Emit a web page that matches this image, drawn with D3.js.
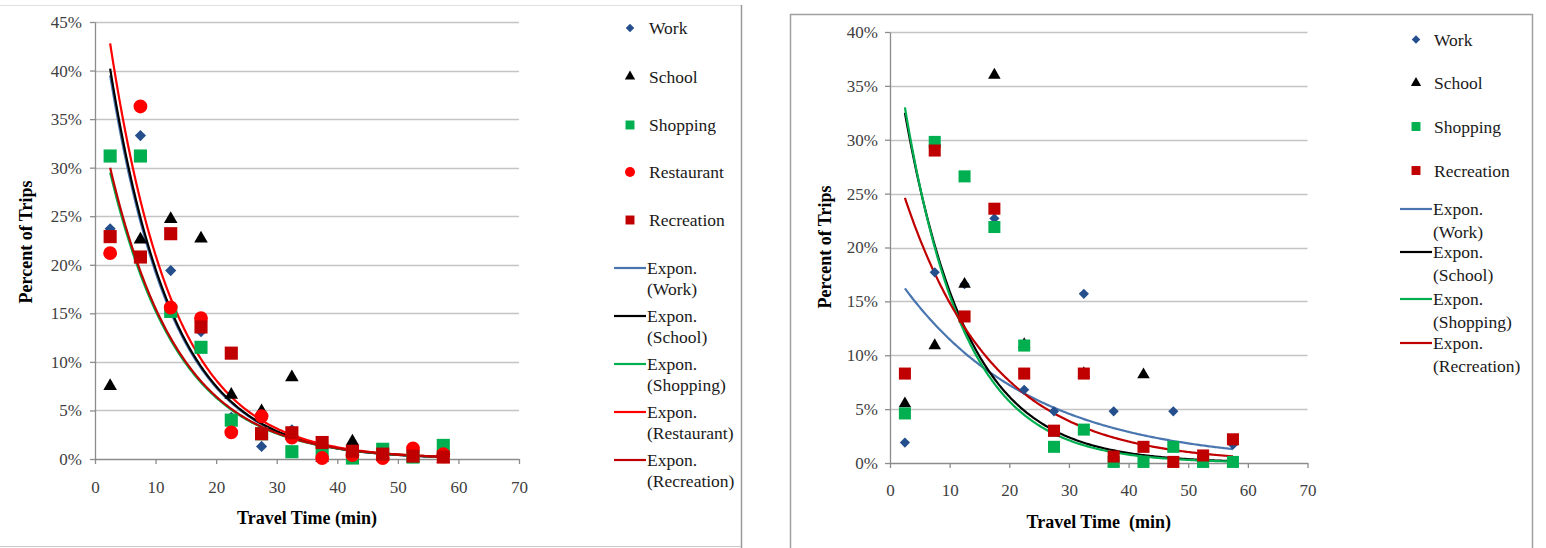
<!DOCTYPE html>
<html>
<head>
<meta charset="utf-8">
<script src="https://cdn.jsdelivr.net/npm/d3@7/dist/d3.min.js"></script>
<style>
  html, body { margin: 0; padding: 0; background: #ffffff; }
  svg { display: block; }
</style>
</head>
<body>
<svg id="chart" width="1546" height="548"></svg>
<script>
// ---------- DATA ----------
const travelTime = [2.5, 7.5, 12.5, 17.5, 22.5, 27.5, 32.5, 37.5, 42.5, 47.5, 52.5, 57.5];
const xTicks = [0, 10, 20, 30, 40, 50, 60, 70];
const yTicksLeft = [0, 0.05, 0.10, 0.15, 0.20, 0.25, 0.30, 0.35, 0.40, 0.45];
const yTicksRight = [0, 0.05, 0.10, 0.15, 0.20, 0.25, 0.30, 0.35, 0.40];

// left chart (percent of trips, %)
const leftWork       = [23.7, 33.3, 19.4, 13.1, 4.3, 1.3, 3.0, 0.6, 0.4, 0.2, 0.1, 0.1];
const leftSchool     = [7.5, 22.6, 24.7, 22.7, 6.6, 4.9, 8.4, 0.1, 1.8, 0.2, 0.1, 0.0];
const leftShopping   = [31.2, 31.2, 15.2, 11.5, 4.0, 2.6, 0.75, 0.8, 0.1, 1.0, 0.2, 1.4];
const leftRestaurant = [21.2, 36.3, 15.6, 14.5, 2.75, 4.4, 2.2, 0.1, 0.4, 0.1, 1.1, 0.5];
const leftRecreation = [22.9, 20.8, 23.2, 13.6, 10.9, 2.6, 2.7, 1.7, 0.8, 0.5, 0.3, 0.2];
// exponential trend lines: value at x=2.5 (%) and decay rate per minute
const leftTrendNames = ["Work", "School", "Shopping", "Restaurant", "Recreation"];
const leftTrendStart = [39.5, 40.2, 29.5, 42.8, 30.0];
const leftTrendRate  = [0.096, 0.096, 0.088, 0.095, 0.088];

// right chart
const rightWork       = [1.9, 17.7, 16.6, 22.7, 6.8, 4.8, 15.7, 4.8, 1.5, 4.8, 0.1, 1.7];
const rightSchool     = [5.5, 10.9, 16.6, 36.0, 11.0, 2.8, 8.3, 0.0, 8.2, 0.0, 0.0, 0.0];
const rightShopping   = [4.6, 29.8, 26.6, 21.9, 10.9, 1.5, 3.1, 0.1, 0.1, 1.5, 0.1, 0.1];
const rightRecreation = [8.3, 29.0, 13.6, 23.6, 8.3, 3.0, 8.3, 0.6, 1.5, 0.1, 0.7, 2.2];
const rightTrendNames = ["Work", "School", "Shopping", "Recreation"];
const rightTrendStart = [16.2, 32.5, 33.0, 24.6];
const rightTrendRate  = [0.046, 0.095, 0.100, 0.067];

// ---------- STYLES ----------
const FONT = '"Liberation Serif", "Times New Roman", serif';
const style = {
  Work:       { marker: "diamond",  fill: "#244f8c", line: "#4a76b0" },
  School:     { marker: "triangle", fill: "#000000", line: "#000000" },
  Shopping:   { marker: "square",   fill: "#00b050", line: "#00b050" },
  Restaurant: { marker: "circle",   fill: "#ff0000", line: "#ff0000" },
  Recreation: { marker: "square",   fill: "#c00000", line: "#c00000" }
};

const svg = d3.select("#chart");

// panel frames
svg.append("line").attr("x1", 0).attr("x2", 741).attr("y1", 5.5).attr("y2", 5.5)
  .attr("stroke", "#e0e0e0").attr("stroke-width", 1);
svg.append("line").attr("x1", 741.5).attr("x2", 741.5).attr("y1", 5).attr("y2", 548)
  .attr("stroke", "#9a9a9a").attr("stroke-width", 1.5);
svg.append("line").attr("x1", 0).attr("x2", 741).attr("y1", 546.5).attr("y2", 546.5)
  .attr("stroke", "#c8c8c8").attr("stroke-width", 1);
svg.append("path").attr("d", "M790.5,548 V14.5 H1532.5 V548")
  .attr("fill", "none").attr("stroke", "#a0a0a0").attr("stroke-width", 1.5);

function markerPath(type, size) {
  if (type === "triangle") return d3.symbol().type(d3.symbolTriangle).size(size)();
  if (type === "circle") return d3.symbol().type(d3.symbolCircle).size(size)();
  return d3.symbol().type(d3.symbolSquare).size(size)();
}

function drawChart(cfg) {
  const x = d3.scaleLinear().domain([0, 70]).range([cfg.x0, cfg.x1]);
  const y = d3.scaleLinear().domain([0, cfg.yMax]).range([cfg.y0, cfg.y1]);
  const g = svg.append("g");

  // gridlines
  g.selectAll(".grid").data(cfg.yTicks.filter(d => d > 0)).enter().append("line")
    .attr("x1", cfg.x0).attr("x2", cfg.x1)
    .attr("y1", d => Math.round(y(d)) + 0.5).attr("y2", d => Math.round(y(d)) + 0.5)
    .attr("stroke", "#c4c4c4").attr("stroke-width", 1.3);

  // axes
  const xAxis = g.append("g").attr("transform", `translate(0,${cfg.y0})`)
    .call(d3.axisBottom(x).tickValues(xTicks).tickSize(5).tickSizeOuter(0).tickPadding(cfg.xPad));
  const yAxis = g.append("g").attr("transform", `translate(${cfg.x0},0)`)
    .call(d3.axisLeft(y).tickValues(cfg.yTicks).tickSize(5).tickSizeOuter(0)
      .tickPadding(cfg.yPad).tickFormat(d3.format(".0%")));
  [xAxis, yAxis].forEach(a => {
    a.select(".domain").attr("stroke", "#8c8c8c").attr("stroke-width", 1.3);
    a.selectAll(".tick line").attr("stroke", "#8c8c8c").attr("stroke-width", 1.3);
    a.selectAll(".tick text").style("font-family", FONT).style("font-size", "17px")
      .attr("fill", "#404040");
  });

  // trend lines
  const xs = d3.range(0, 221).map(i => 2.5 + i * 55 / 220);
  cfg.trendNames.forEach((name, i) => {
    const pts = xs.map(t => [t, cfg.trendStart[i] / 100 * Math.exp(-cfg.trendRate[i] * (t - 2.5))]);
    g.append("path").datum(pts)
      .attr("d", d3.line().x(d => x(d[0])).y(d => y(d[1])))
      .attr("fill", "none").attr("stroke", style[name].line).attr("stroke-width", 2.2);
  });

  // markers
  cfg.series.forEach(s => {
    const st = style[s.name];
    g.selectAll(null).data(s.values).enter().append("path")
      .attr("d", markerPath(st.marker, cfg.sizes[st.marker]))
      .attr("transform", (d, i) => `translate(${x(travelTime[i])},${y(d / 100)})` + (st.marker === "diamond" ? " rotate(45)" : ""))
      .attr("fill", st.fill);
  });

  // axis titles
  g.append("text").attr("x", (cfg.x0 + cfg.x1) / 2).attr("y", cfg.xTitleY)
    .attr("text-anchor", "middle").style("font-family", FONT).style("font-weight", "bold")
    .style("font-size", "18px").style("white-space", "pre").attr("fill", "#000").text(cfg.xTitle);
  g.append("text").attr("transform", `translate(${cfg.yTitleX},${cfg.yTitleY}) rotate(-90)`)
    .attr("text-anchor", "middle").style("font-family", FONT).style("font-weight", "bold")
    .style("font-size", "18px").attr("fill", "#000").text("Percent of Trips");

  // legend
  const lg = g.append("g");
  const legText = (xx, yy, t) => lg.append("text").attr("x", xx).attr("y", yy).attr("dy", "0.35em")
    .style("font-family", FONT).style("font-size", "17.5px").attr("fill", "#1a1a1a").text(t);
  cfg.series.forEach((s, i) => {
    const st = style[s.name];
    const cy = cfg.legMarkerY[i];
    lg.append("path").attr("d", markerPath(st.marker, cfg.legSizes[st.marker]))
      .attr("transform", `translate(${cfg.legMarkerX},${cy})` + (st.marker === "diamond" ? " rotate(45)" : ""))
      .attr("fill", st.fill);
    legText(cfg.legTextX, cy, s.name);
  });
  cfg.trendNames.forEach((name, i) => {
    const cy = cfg.legLineY[i];
    lg.append("line").attr("x1", cfg.legLineX0).attr("x2", cfg.legLineX1)
      .attr("y1", cy).attr("y2", cy).attr("stroke", style[name].line).attr("stroke-width", 2.2);
    legText(cfg.legLineX1 + 1, cy, "Expon.");
    legText(cfg.legLineX1 + 1, cy + cfg.legLineGap, "(" + name + ")");
  });
}

drawChart({
  x0: 95, x1: 519, y0: 459, y1: 22, yMax: 0.45, yTicks: yTicksLeft,
  xPad: 17, yPad: 8,
  series: [
    { name: "Work", values: leftWork },
    { name: "School", values: leftSchool },
    { name: "Shopping", values: leftShopping },
    { name: "Restaurant", values: leftRestaurant },
    { name: "Recreation", values: leftRecreation }
  ],
  trendNames: leftTrendNames, trendStart: leftTrendStart, trendRate: leftTrendRate,
  sizes: { diamond: 62, triangle: 80, square: 172, circle: 150 },
  legSizes: { diamond: 36, triangle: 46, square: 80, circle: 78 },
  xTitle: "Travel Time (min)", xTitleY: 524, yTitleX: 32, yTitleY: 242,
  legMarkerX: 630, legTextX: 649, legMarkerY: [28, 76.5, 125, 172, 220],
  legLineX0: 614, legLineX1: 646, legLineY: [268, 316, 364, 412, 460], legLineGap: 21
});

drawChart({
  x0: 890, x1: 1307.5, y0: 463, y1: 32, yMax: 0.40, yTicks: yTicksRight,
  xPad: 16, yPad: 7,
  series: [
    { name: "Work", values: rightWork },
    { name: "School", values: rightSchool },
    { name: "Shopping", values: rightShopping },
    { name: "Recreation", values: rightRecreation }
  ],
  trendNames: rightTrendNames, trendStart: rightTrendStart, trendRate: rightTrendRate,
  sizes: { diamond: 52, triangle: 68, square: 145, circle: 120 },
  legSizes: { diamond: 36, triangle: 46, square: 80, circle: 78 },
  xTitle: "Travel Time  (min)", xTitleY: 528, yTitleX: 831, yTitleY: 247,
  legMarkerX: 1416, legTextX: 1434, legMarkerY: [39.5, 83, 126.5, 170.5],
  legLineX0: 1400, legLineX1: 1432, legLineY: [209, 252, 299, 343], legLineGap: 23
});
</script>
</body>
</html>
